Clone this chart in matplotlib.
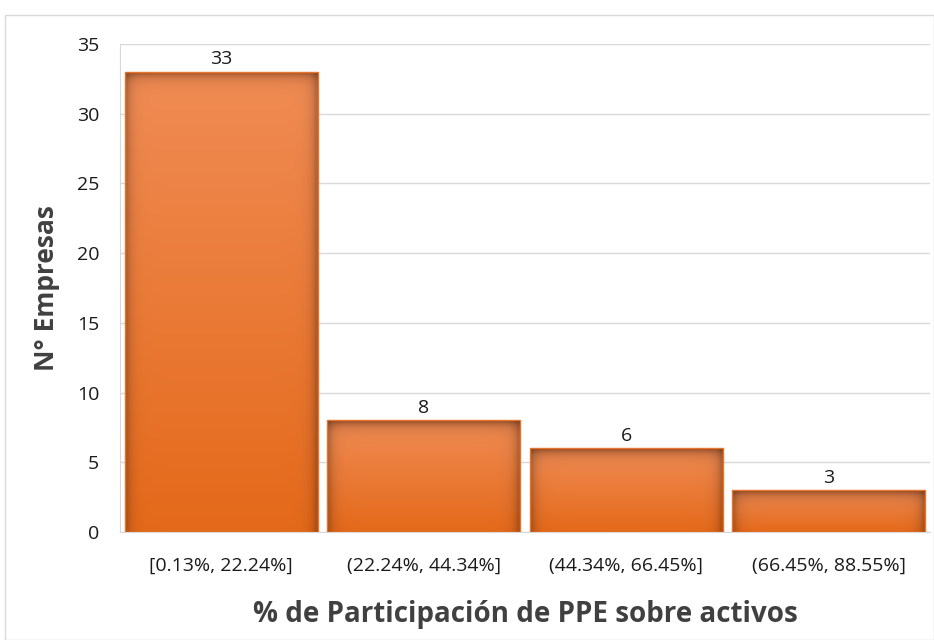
import numpy as np
import matplotlib
matplotlib.use("Agg")
import matplotlib.pyplot as plt
from matplotlib.patches import Rectangle
from matplotlib.colors import to_rgb

categories = ["[0.13%, 22.24%]", "(22.24%, 44.34%]", "(44.34%, 66.45%]", "(66.45%, 88.55%]"]
values = [33, 8, 6, 3]
yticks = [0, 5, 10, 15, 20, 25, 30, 35]

plt.rcParams['font.family'] = ['Open Sans', 'DejaVu Sans']

fig = plt.figure(figsize=(9.34, 6.4), dpi=100)
fig.patches.append(Rectangle((5/934, 0), 929/934, 625/640, transform=fig.transFigure,
                             fill=False, edgecolor='#d9d9d9', linewidth=1))
ax = fig.add_axes([120/934, 108/640, 810/934, 488/640])

x = np.arange(len(categories))
bars = ax.bar(x, values, width=0.953, color='none', edgecolor='#E8732A', linewidth=1.0, zorder=3)

ax.set_xlim(-0.5, len(categories) - 0.5)
ax.set_ylim(0, 35)

top_c = np.array(to_rgb('#F08C55'))
bot_c = np.array(to_rgb('#E4691A'))
band_c = np.array(to_rgb('#7A3C1C'))
px_per_unit = 488 / 35
for b, v in zip(bars, values):
    hpx = int(round(v * px_per_unit))
    n = max(hpx, 2)
    t = np.linspace(0, 1, n)[:, None]  # 0 top -> 1 bottom
    base = top_c * (1 - t) + bot_c * t
    dist = np.arange(n)[:, None]
    band = np.exp(-dist / 5.5)
    col = base * (1 - band * 0.85) + band_c * band * 0.85
    w = 60
    s = np.linspace(0, 1, w)[None, :]
    edge = np.exp(-s * 190 / 5) + np.exp(-(1 - s) * 190 / 5)
    img = col[:, None, :] * (1 - 0.25 * edge[..., None])
    im = ax.imshow(img, extent=(b.get_x(), b.get_x() + b.get_width(), 0, v),
                   aspect='auto', zorder=2, interpolation='bilinear')
    im.set_clip_path(b)
    ax.text(b.get_x() + b.get_width() / 2, v + 0.25, str(v), ha='center', va='bottom',
            fontsize=14, color='#1a1a1a', zorder=4)

ax.set_yticks(yticks)
ax.set_xticks(x)
ax.set_xticklabels(categories)
ax.tick_params(axis='both', length=0, labelsize=14, colors='#1a1a1a')
ax.tick_params(axis='y', pad=15)
ax.tick_params(axis='x', pad=18)
ax.grid(axis='y', color='#d9d9d9', linewidth=1, zorder=0)
ax.set_axisbelow(True)
for s in ['top', 'right']:
    ax.spines[s].set_visible(False)
ax.spines['left'].set_color('#d9d9d9')
ax.spines['bottom'].set_color('#d9d9d9')

ax.set_ylabel('N° Empresas', fontsize=19, fontweight='bold', color='#404040', labelpad=12)
ax.set_xlabel('% de Participación de PPE sobre activos', fontsize=20, fontweight='bold',
              color='#404040', labelpad=18)

fig.savefig('out.png', dpi=100)
